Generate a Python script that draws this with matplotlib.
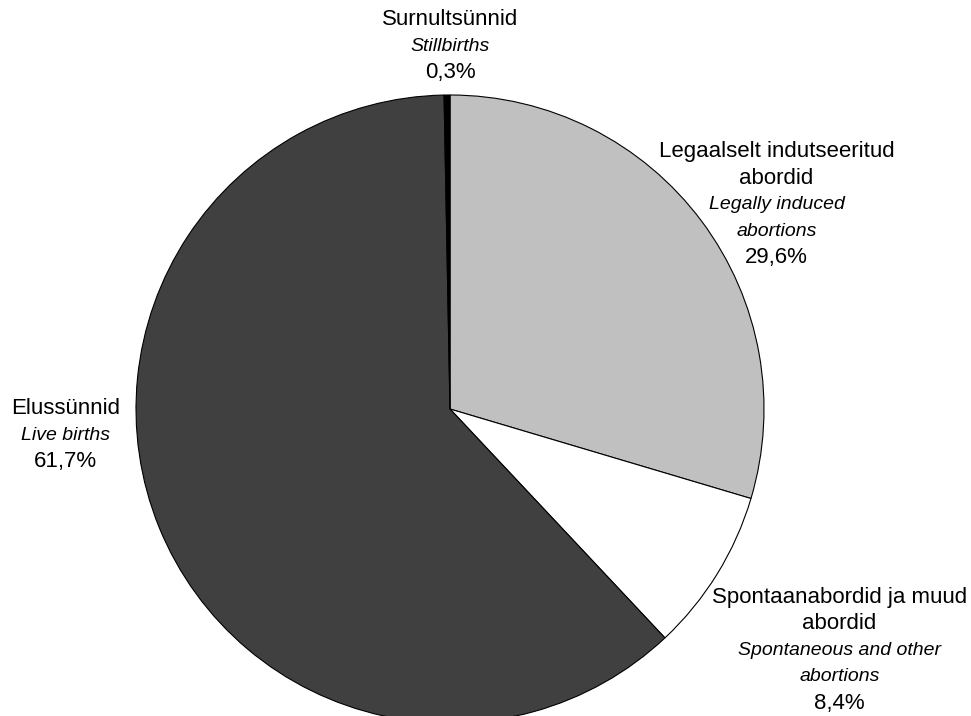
import matplotlib
matplotlib.use("Agg")
import matplotlib.pyplot as plt

plt.rcParams['font.family'] = ['Liberation Sans', 'DejaVu Sans']

# andmed (päripäeva alates kella 12-st)
names_et = ["Legaalselt indutseeritud\nabordid", "Spontaanabordid ja muud\nabordid", "Elussünnid", "Surnultsünnid"]
names_en = ["Legally induced\nabortions", "Spontaneous and other\nabortions", "Live births", "Stillbirths"]
shares = [29.6, 8.4, 61.7, 0.3]
colors = ["#c0c0c0", "#ffffff", "#404040", "#000000"]

# sildi asukohad (pirukas raadiusega 1, keskpunkt 0,0)
label_pos = [(1.04, 0.82), (1.24, -0.60), (-1.225, 0.0), (0.0, 1.24)]

fig = plt.figure(figsize=(9.71, 7.16), dpi=100)
cx, cy, r = 450, 409, 314
W, H = 971, 716
ax = fig.add_axes([(cx - r) / W, (H - cy - r) / H, 2 * r / W, 2 * r / H])
ax.pie(shares, colors=colors, startangle=90, counterclock=False, radius=1,
       wedgeprops=dict(edgecolor="black", linewidth=0.8))
ax.set_xlim(-1, 1)
ax.set_ylim(-1, 1)
ax.set_aspect('auto')
ax.axis('off')

step = 26.5 / r
for et, en, s, (x, y) in zip(names_et, names_en, shares, label_pos):
    lines = [(t, 'normal', 16) for t in et.split("\n")]
    lines += [(t, 'italic', 14) for t in en.split("\n")]
    lines.append((f"{s:.1f}".replace(".", ",") + "%", 'normal', 16))
    for i, (t, st, fs) in enumerate(lines):
        ax.text(x, y - i * step, t, ha='center', va='center', fontsize=fs,
                fontstyle=st, clip_on=False)

fig.savefig("out.png", dpi=100)
